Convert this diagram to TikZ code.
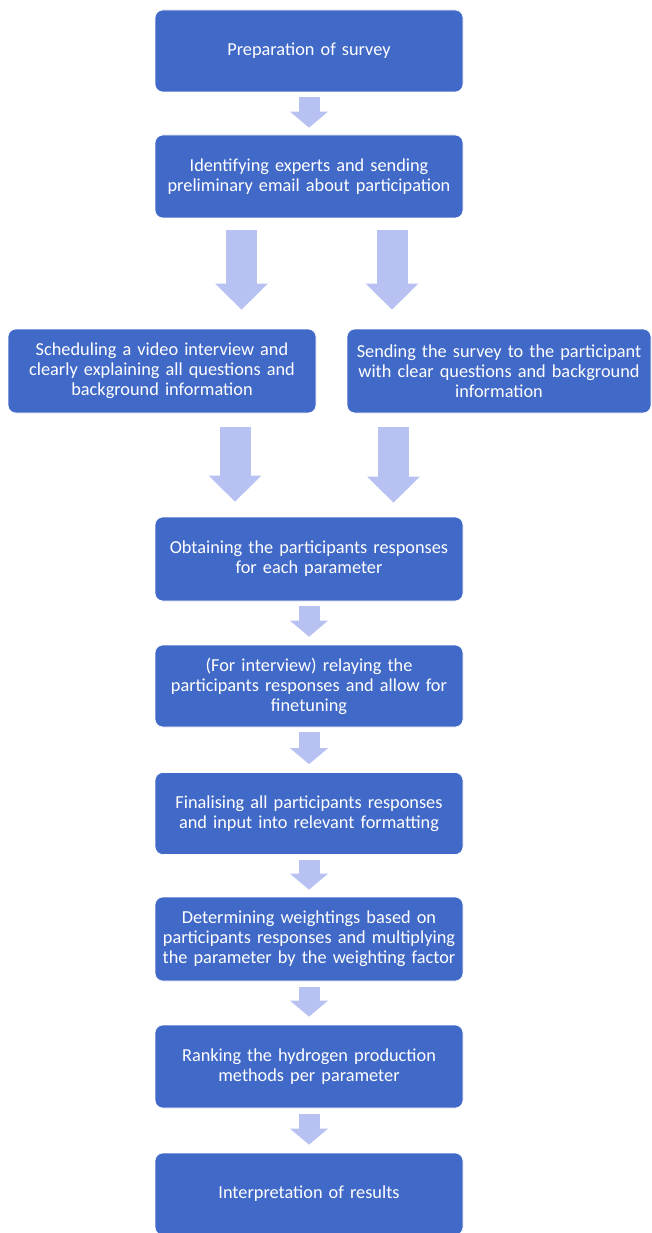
\documentclass[tikz,border=0pt]{standalone}
\usepackage{fontspec}
\setmainfont{Carlito}
\usetikzlibrary{arrows.meta}
\definecolor{boxblue}{HTML}{4169C7}
\definecolor{arrowblue}{HTML}{B8C2F2}
\tikzset{
  stepbox/.style={rectangle, rounded corners=8pt, fill=boxblue, draw=white, line width=0.6pt,
    minimum width=308pt, minimum height=82pt, text width=300pt, align=center,
    text=white, font=\fontsize{18.3}{20}\selectfont, inner sep=0pt},
  smallarrow/.style={draw=arrowblue, line width=21pt, line cap=butt,
    -{Triangle[width=37pt,length=16pt]}},
  bigarrow/.style={draw=arrowblue, line width=31pt, line cap=butt,
    -{Triangle[width=51pt,length=26pt]}}
}
\begin{document}
\begin{tikzpicture}[x=1pt,y=-1pt]
\useasboundingbox (0,0) rectangle (651,1233);
\node[stepbox] (b1) at (309,51) {Preparation of survey};
\node[stepbox, minimum height=83pt] (b2) at (309,176.5) {Identifying experts and sending\\preliminary email about participation};
\node[stepbox, minimum height=84pt] (bL) at (162,371) {Scheduling a video interview and\\clearly explaining all questions and\\background information};
\node[stepbox, minimum height=84pt, minimum width=304pt] (bR) at (499,371) {Sending the survey to the participant\\with clear questions and background\\information};
\node[stepbox, minimum height=84pt] (b3) at (309,559) {Obtaining the participants responses\\for each parameter};
\node[stepbox] (b4) at (309,686) {(For interview) relaying the\\participants responses and allow for\\finetuning};
\node[stepbox] (b5) at (309,813.5) {Finalising all participants responses\\and input into relevant formatting};
\node[stepbox, minimum height=84pt] (b6) at (309,939) {Determining weightings based on\\participants responses and multiplying\\the parameter by the weighting factor};
\node[stepbox, minimum height=83pt] (b7) at (309,1066.5) {Ranking the hydrogen production\\methods per parameter};
\node[stepbox] (b8) at (309,1194) {Interpretation of results};

\draw[smallarrow] ([yshift=-5pt]b1.south) -- ([yshift=7pt]b2.north);
\draw[bigarrow] ([xshift=-67.5pt,yshift=-12pt]b2.south) -- ([xshift=79.5pt,yshift=19pt]bL.north);
\draw[bigarrow] ([xshift=83pt,yshift=-12pt]b2.south) -- ([xshift=-107pt,yshift=19pt]bR.north);
\draw[bigarrow] ([xshift=73pt,yshift=-14pt]bL.south) -- ([xshift=-74pt,yshift=15pt]b3.north);
\draw[bigarrow] ([xshift=-105.5pt,yshift=-14pt]bR.south) -- ([xshift=84.5pt,yshift=14pt]b3.north);
\draw[smallarrow] ([yshift=-5pt]b3.south) -- ([yshift=8pt]b4.north);
\draw[smallarrow] ([yshift=-5pt]b4.south) -- ([yshift=8pt]b5.north);
\draw[smallarrow] ([yshift=-5pt]b5.south) -- ([yshift=7pt]b6.north);
\draw[smallarrow] ([yshift=-6pt]b6.south) -- ([yshift=8pt]b7.north);
\draw[smallarrow] ([yshift=-6pt]b7.south) -- ([yshift=8pt]b8.north);
\end{tikzpicture}
\end{document}
